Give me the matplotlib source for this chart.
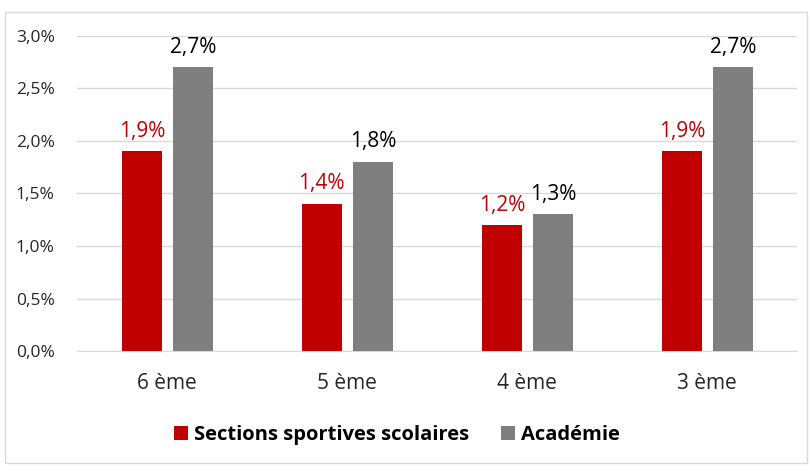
import matplotlib.pyplot as plt
import matplotlib.patches as mpatches
from matplotlib.ticker import FuncFormatter
import numpy as np

plt.rcParams['font.family'] = ['Open Sans', 'DejaVu Sans']

niveaux = ["6 ème", "5 ème", "4 ème", "3 ème"]
sections = [1.9, 1.4, 1.2, 1.9]
academie = [2.7, 1.8, 1.3, 2.7]

red = "#C00000"
grey = "#7F7F7F"

fig = plt.figure(figsize=(8.1, 4.65), dpi=100)
ax = fig.add_axes([0.095, 0.245, 0.889, 0.678])

# light frame around the chart
fig.patches.append(mpatches.Rectangle((0.006, 0.004), 0.99, 0.97, transform=fig.transFigure,
                                      fill=False, edgecolor="#D9D9D9", linewidth=1))

x = np.arange(len(niveaux))
w = 0.222
b1 = ax.bar(x - 0.14, sections, w, color=red, label="Sections sportives scolaires", zorder=3)
b2 = ax.bar(x + 0.145, academie, w, color=grey, label="Académie", zorder=3)

for rect, v in zip(b1, sections):
    ax.text(rect.get_x() + rect.get_width() / 2, v + 0.09, f"{v:.1f}%".replace(".", ","),
            ha="center", va="bottom", color=red, fontsize=15)
for rect, v in zip(b2, academie):
    ax.text(rect.get_x() + rect.get_width() / 2, v + 0.09, f"{v:.1f}%".replace(".", ","),
            ha="center", va="bottom", color="black", fontsize=15)

ax.set_xlim(-0.5, 3.5)
ax.set_ylim(0, 3.0)
ax.set_yticks(np.arange(0, 3.01, 0.5))
ax.yaxis.set_major_formatter(FuncFormatter(lambda v, p: f"{v:.1f}%".replace(".", ",")))
ax.set_xticks(x)
ax.set_xticklabels(niveaux, fontsize=15)
ax.tick_params(axis="y", labelsize=12.5, length=0, pad=16, colors="#262626")
ax.tick_params(axis="x", length=0, pad=16, colors="#262626")
ax.grid(axis="y", color="#D9D9D9", linewidth=1, zorder=0)
for s in ["top", "right", "left"]:
    ax.spines[s].set_visible(False)
ax.spines["bottom"].set_color("#D9D9D9")

leg = fig.legend(handles=[b1, b2], loc="center", bbox_to_anchor=(0.49, 0.065), ncol=2,
                 frameon=False, prop={"weight": "bold", "size": 14.5},
                 handlelength=0.7, handleheight=0.7, handletextpad=0.3, columnspacing=1.6)

fig.savefig("out.png", dpi=100)
